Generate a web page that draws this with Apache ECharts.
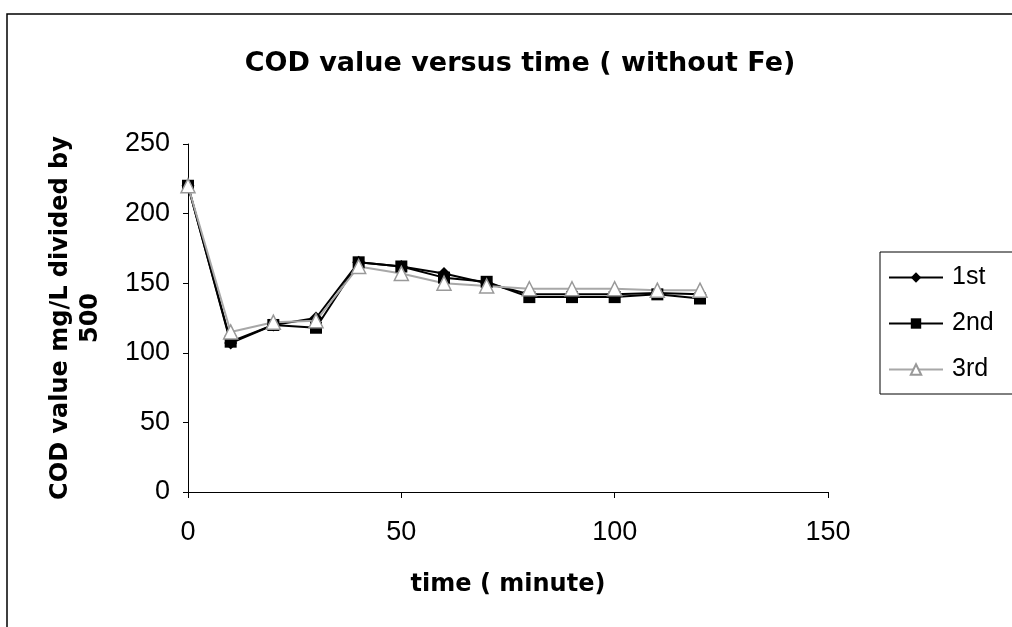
<!DOCTYPE html>
<html>
<head>
<meta charset="utf-8">
<script src="https://cdn.jsdelivr.net/npm/echarts@6/dist/echarts.min.js"></script>
<style>
  html, body { margin: 0; padding: 0; background: #fff; }
  #chart { width: 1012px; height: 627px; }
</style>
</head>
<body>
<div id="chart"></div>
<script>
// time in minutes
var times = [0, 10, 20, 30, 40, 50, 60, 70, 80, 90, 100, 110, 120];
// COD value mg/L divided by 500
var run1 = [220, 107, 120, 125, 165, 162, 157, 150, 142, 142, 142, 143, 142];
var run2 = [220, 108, 120, 118, 165, 162, 154, 151, 140, 140, 140, 142, 139];
var run3 = [220, 115, 122, 123, 162, 157, 150, 148, 146, 146, 146, 145, 145];
var xTicks = [0, 50, 100, 150];
var yTicks = [0, 50, 100, 150, 200, 250];

function pairs(vals) {
  return times.map(function (t, i) { return [t, vals[i]]; });
}

var chart = echarts.init(document.getElementById('chart'));
var font = 'Liberation Sans, Arial, sans-serif';
var boldFont = 'DejaVu Sans, Liberation Sans, sans-serif';

chart.setOption({
  animation: false,
  backgroundColor: '#fff',
  textStyle: { fontFamily: font },
  graphic: [
    {
      type: 'rect',
      shape: { x: 7, y: 14, width: 1010, height: 620 },
      style: { fill: 'none', stroke: '#000', lineWidth: 1.5 },
      silent: true
    },
    {
      type: 'text',
      x: 520,
      y: 64,
      style: {
        text: 'COD value versus time ( without Fe)',
        font: 'bold 27px ' + boldFont,
        fill: '#000',
        textAlign: 'center',
        textVerticalAlign: 'middle'
      }
    }
  ],
  legend: {
    orient: 'vertical',
    left: 880,
    top: 252,
    padding: [13, 25, 12, 8],
    itemGap: 21,
    itemWidth: 54,
    itemHeight: 13,
    borderColor: '#000',
    borderWidth: 1,
    textStyle: { fontSize: 25, color: '#000', fontFamily: font, padding: [0, 0, 0, 4] },
    data: ['1st', '2nd', '3rd']
  },
  grid: { left: 188, right: 184, top: 144, bottom: 135 },
  xAxis: {
    type: 'value',
    min: 0,
    max: 150,
    interval: 50,
    name: 'time ( minute)',
    nameLocation: 'middle',
    nameGap: 81,
    nameTextStyle: { fontSize: 24, fontWeight: 'bold', color: '#000', fontFamily: boldFont },
    axisLine: { lineStyle: { color: '#000', width: 1 } },
    axisTick: { show: true, inside: false, length: 6, lineStyle: { color: '#000' } },
    axisLabel: {
      fontSize: 27, color: '#000', margin: 27,
      formatter: function (v) { return xTicks.indexOf(v) >= 0 ? String(v) : ''; }
    },
    splitLine: { show: false }
  },
  yAxis: {
    type: 'value',
    min: 0,
    max: 250,
    interval: 50,
    name: 'COD value mg/L divided by\n500',
    nameLocation: 'middle',
    nameRotate: 90,
    nameGap: 82,
    nameTextStyle: { fontSize: 24, fontWeight: 'bold', color: '#000', fontFamily: boldFont, lineHeight: 30 },
    axisLine: { show: true, lineStyle: { color: '#000', width: 1 } },
    axisTick: { show: true, inside: false, length: 5, lineStyle: { color: '#000' } },
    axisLabel: {
      fontSize: 27, color: '#000', margin: 18,
      formatter: function (v) { return yTicks.indexOf(v) >= 0 ? String(v) : ''; }
    },
    splitLine: { show: false }
  },
  series: [
    {
      name: '1st', type: 'line', data: pairs(run1),
      symbol: 'diamond', symbolSize: 13,
      lineStyle: { color: '#000', width: 2 },
      itemStyle: { color: '#000' }
    },
    {
      name: '2nd', type: 'line', data: pairs(run2),
      symbol: 'rect', symbolSize: 12,
      lineStyle: { color: '#000', width: 2 },
      itemStyle: { color: '#000' }
    },
    {
      name: '3rd', type: 'line', data: pairs(run3),
      symbol: 'triangle', symbolSize: 14,
      lineStyle: { color: '#a8a8a8', width: 2 },
      itemStyle: { color: '#fff', borderColor: '#999', borderWidth: 1.5 }
    }
  ]
});
</script>
</body>
</html>
